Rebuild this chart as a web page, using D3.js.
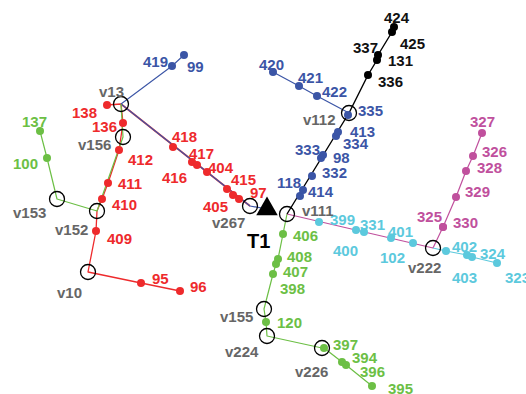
<!DOCTYPE html>
<html>
<head>
<meta charset="utf-8">
<script src="https://cdn.jsdelivr.net/npm/d3@7"></script>
<style>
  html, body { margin: 0; padding: 0; background: #fff; }
  svg text { font-family: "Liberation Sans", Arial, sans-serif; font-weight: bold; }
</style>
</head>
<body>
<svg id="chart" width="526" height="394"></svg>
<script>
// Network plan: source T1, junction vertices and numbered service points,
// positioned on a local site grid (x east, y south, grid units).

const source = [["T1", 267, 209]];

const vertices = [
  ["v13", 121, 104], ["v156", 123, 137], ["v153", 57, 199], ["v152", 97, 211],
  ["v10", 88, 272], ["v267", 250, 206], ["v111", 287, 214], ["v112", 349, 113],
  ["v222", 433, 248], ["v155", 264, 309], ["v224", 267, 336], ["v226", 322, 348]
];

const blackPoints = [["336", 368, 75], ["131", 377, 60], ["337", 378, 55], ["425", 392, 32], ["424", 394, 27]];

const bluePoints = [
  ["118", 300, 196], ["414", 303, 190], ["332", 312, 176], ["333", 321, 158], ["98", 323, 155],
  ["334", 336, 136], ["413", 338, 132], ["335", 348, 115],
  ["420", 273, 72], ["421", 299, 86], ["422", 317, 96],
  ["419", 172, 66], ["99", 184, 55]
];

const redPoints = [
  ["138", 107, 105], ["136", 123, 123], ["412", 119, 150], ["411", 108, 183], ["410", 102, 199],
  ["409", 96, 231], ["95", 141, 283], ["96", 180, 291],
  ["418", 173, 147], ["417", 192, 162], ["416", 197, 165], ["404", 207, 172],
  ["415", 227, 189], ["405", 233, 195], ["97", 239, 199]
];

const greenPoints = [
  ["137", 40, 131], ["100", 47, 158],
  ["406", 283, 234], ["408", 278, 259], ["407", 276, 264], ["398", 273, 274],
  ["120", 266, 322], ["397", 324, 348], ["394", 342, 362], ["396", 346, 365], ["395", 372, 386]
];

const magentaPoints = [["330", 443, 227], ["325", 443, 227], ["329", 456, 197], ["328", 466, 171], ["326", 473, 156], ["327", 482, 133]];

const cyanPoints = [
  ["399", 319, 222], ["331", 356, 230], ["400", 364, 232], ["401", 391, 238], ["102", 413, 243],
  ["402", 446, 251], ["403", 467, 255], ["324", 472, 257], ["323", 497, 263]
];

// Cable routes, listed as node sequences
const routes = [
  { color: "red",     width: 1.6, nodes: ["v13", "v267"] },
  { color: "red",     width: 1.3, nodes: ["138", "v13", "136", "412", "411", "410", "v152", "409", "v10", "95", "96"] },
  { color: "blue",    width: 1.1, nodes: ["99", "419", "v13"] },
  { color: "blue",    width: 1.2, nodes: ["v13", "v267", "T1"] },
  { color: "blue",    width: 1.2, nodes: ["420", "421", "422", "v112"] },
  { color: "green",   width: 1.2, nodes: ["137", "100", "v153", "v152", "v156", "v13"] },
  { color: "green",   width: 1.2, nodes: ["v111", "406", "408", "407", "398", "v155", "120", "v224", "v226", "397", "394", "396", "395"] },
  { color: "magenta", width: 1.2, nodes: ["v111", "v222", "330", "329", "328", "326", "327"] },
  { color: "cyan",    width: 1.2, nodes: ["v222", "402", "403", "324", "323"] },
  { color: "black",   width: 1.4, nodes: ["v111", "v112", "336", "131", "337", "425", "424"] }
];

// Label placement (text start relative to the node, in pixels)
const labelOffset = {
  "v13": [-22, -7], "v156": [-45, 13], "v153": [-44, 19], "v152": [-42, 24], "v10": [-31, 26],
  "v267": [-38, 22], "v111": [15, 2], "v112": [-46, 12], "v222": [-25, 25], "v155": [-44, 13],
  "v224": [-42, 21], "v226": [-27, 29], "T1": [-20, 39],
  "424": [-10, -4], "425": [8, 17], "337": [-25, -2], "131": [11, 6], "336": [10, 12],
  "118": [-23, -8], "414": [5, 7], "332": [10, 2], "333": [-26, -3], "98": [10, 8],
  "334": [7, 13], "413": [12, 5], "335": [10, 1],
  "420": [-14, -2], "421": [-1, -3], "422": [5, 1], "419": [-29, 1], "99": [3, 17],
  "138": [-35, 13], "136": [-31, 9], "412": [9, 15], "411": [10, 6], "410": [10, 11],
  "409": [11, 13], "95": [11, 1], "96": [10, 1],
  "418": [-1, -5], "417": [-3, -3], "416": [-35, 18], "404": [1, 1], "415": [4, -4],
  "405": [-30, 17], "97": [11, -1],
  "137": [-18, -4], "100": [-34, 11], "406": [10, 7], "408": [9, 3], "407": [7, 13],
  "398": [7, 20], "120": [11, 6], "397": [9, 2], "394": [10, 1], "396": [14, 12], "395": [16, 8],
  "327": [-12, -6], "326": [9, 1], "328": [11, 2], "329": [9, 0], "325": [-26, -5], "330": [10, 1],
  "399": [11, 3], "331": [4, 0], "400": [-31, 24], "401": [-3, -1], "102": [-33, 20],
  "402": [6, 1], "403": [-15, 28], "324": [8, 2], "323": [8, 20]
};

const palette = {
  red: "#ee2a2c", blue: "#3b55a6", green: "#6cbf45", magenta: "#c0509d",
  cyan: "#5cc9dd", black: "#000000", gray: "#666666"
};

const svg = d3.select("#chart");
const W = 526, H = 394;
const x = d3.scaleLinear().domain([0, 526]).range([0, W]);
const y = d3.scaleLinear().domain([0, 394]).range([0, H]);

const pointGroups = [
  { color: "black", data: blackPoints },
  { color: "blue", data: bluePoints },
  { color: "red", data: redPoints },
  { color: "green", data: greenPoints },
  { color: "magenta", data: magentaPoints },
  { color: "cyan", data: cyanPoints }
];

const pos = new Map();
[...source, ...vertices, ...pointGroups.flatMap(g => g.data)].forEach(d => pos.set(d[0], [d[1], d[2]]));

const line = d3.line().x(id => x(pos.get(id)[0])).y(id => y(pos.get(id)[1]));

// routes
svg.append("g").selectAll("path").data(routes).join("path")
  .attr("d", r => line(r.nodes))
  .attr("fill", "none")
  .attr("stroke", r => palette[r.color])
  .attr("stroke-width", r => r.width)
  .attr("stroke-linejoin", "round");

// service points
pointGroups.forEach(g => {
  svg.append("g").selectAll("circle").data(g.data).join("circle")
    .attr("cx", d => x(d[1])).attr("cy", d => y(d[2])).attr("r", 4)
    .attr("fill", palette[g.color]);
});

// junction vertices
svg.append("g").selectAll("circle").data(vertices).join("circle")
  .attr("cx", d => x(d[1])).attr("cy", d => y(d[2])).attr("r", 7.5)
  .attr("fill", "none").attr("stroke", "#000").attr("stroke-width", 1.3);

// source transformer
svg.append("g").selectAll("path").data(source).join("path")
  .attr("transform", d => `translate(${x(d[1])},${y(d[2])})`)
  .attr("d", d3.symbol(d3.symbolTriangle, 200))
  .attr("fill", "#000");

// labels
const labelLayer = svg.append("g");
function drawLabels(data, color, size) {
  labelLayer.append("g").selectAll("text").data(data).join("text")
    .attr("x", d => x(d[1]) + labelOffset[d[0]][0])
    .attr("y", d => y(d[2]) + labelOffset[d[0]][1])
    .attr("fill", color)
    .attr("font-size", size)
    .text(d => d[0]);
}
pointGroups.forEach(g => drawLabels(g.data, g.color === "black" ? "#111" : palette[g.color], 15));
drawLabels(vertices, palette.gray, 15);
drawLabels(source, "#000", 20);
</script>
</body>
</html>
